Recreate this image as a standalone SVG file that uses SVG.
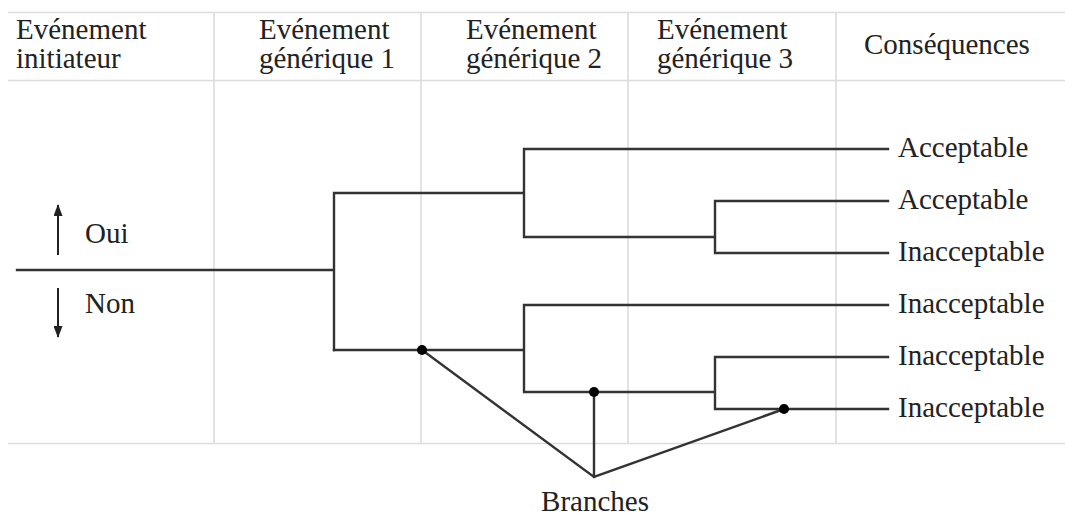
<svg xmlns="http://www.w3.org/2000/svg" width="1065" height="515" viewBox="0 0 1065 515">
<style>
text{font-family:"Liberation Serif","Times New Roman",serif;font-size:29px;fill:#222}
.grid{stroke:#dcdcdc;stroke-width:1.6;fill:none}
.edge{stroke:#333;stroke-width:2.4;fill:none;stroke-linecap:square}
.dot{fill:#000}
.arr{stroke:#222;stroke-width:2;marker-end:url(#ah)}
</style>
<defs>
<marker id="ah" viewBox="0 0 12 9" refX="11" refY="4.5" markerWidth="12" markerHeight="9" orient="auto" markerUnits="userSpaceOnUse">
<path d="M0,0 L12,4.5 L0,9 Z" fill="#222"/>
</marker>
</defs>
<rect width="1065" height="515" fill="#fff"/>
<g id="table">
<line class="grid" x1="8" y1="12.5" x2="1065" y2="12.5"/>
<line class="grid" x1="8" y1="80.5" x2="1065" y2="80.5"/>
<line class="grid" x1="8" y1="443.5" x2="1065" y2="443.5"/>
<line class="grid" x1="214" y1="12" x2="214" y2="444"/>
<line class="grid" x1="421" y1="12" x2="421" y2="444"/>
<line class="grid" x1="628" y1="12" x2="628" y2="444"/>
<line class="grid" x1="836" y1="12" x2="836" y2="444"/>
</g>
<g id="headers">
<text x="16" y="39">Evénement</text><text x="16" y="68">initiateur</text>
<text x="259" y="39">Evénement</text><text x="259" y="68">générique 1</text>
<text x="466" y="39">Evénement</text><text x="466" y="68">générique 2</text>
<text x="657" y="39">Evénement</text><text x="657" y="68">générique 3</text>
<text x="864" y="54">Conséquences</text>
</g>
<g id="connectors">
<path class="edge" d="M17,270 H334 M334,193 V350 M334,193 H524 M524,149 V237 M524,149 H888 M524,237 H715 M715,201 V253 M715,201 H888 M715,253 H888"/>
<path class="edge" d="M334,350 H524 M524,305 V392 M524,305 H888 M524,392 H715 M715,357 V409 M715,357 H888 M715,409 H888"/>
<path class="edge" d="M422,350 L594,477 L784,409 M594,392 V477" stroke-linejoin="miter"/>
<line class="arr" x1="58" y1="255" x2="58" y2="205"/>
<line class="arr" x1="58" y1="288" x2="58" y2="337"/>
</g>
<g id="dots">
<circle class="dot" cx="422" cy="350" r="5"/>
<circle class="dot" cx="594" cy="392" r="5"/>
<circle class="dot" cx="784" cy="409" r="5"/>
</g>
<g id="labels">
<text x="85" y="243">Oui</text>
<text x="85" y="313">Non</text>
<text x="595" y="511" text-anchor="middle">Branches</text>
</g>
<g id="outcomes">
<text x="898" y="157">Acceptable</text>
<text x="898" y="209">Acceptable</text>
<text x="898" y="261">Inacceptable</text>
<text x="898" y="313">Inacceptable</text>
<text x="898" y="365">Inacceptable</text>
<text x="898" y="417">Inacceptable</text>
</g>
</svg>
